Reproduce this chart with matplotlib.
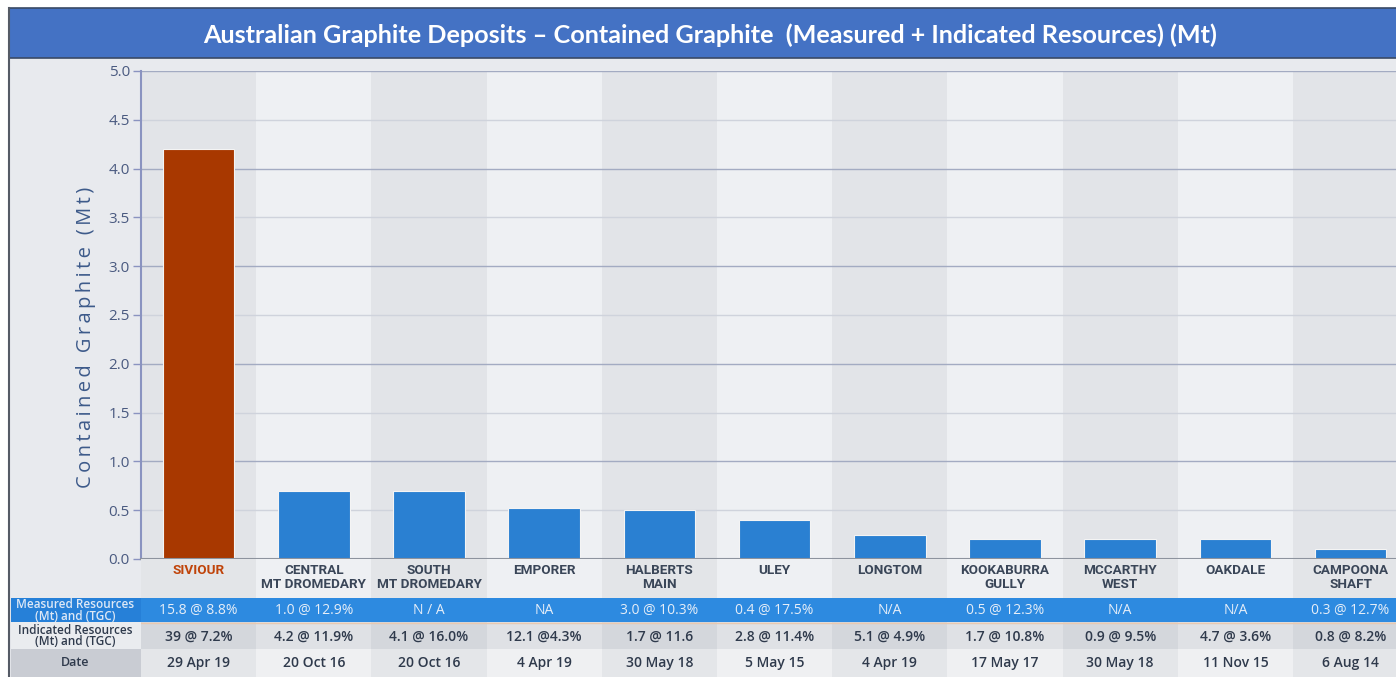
import matplotlib
matplotlib.use("Agg")
import matplotlib.pyplot as plt
from matplotlib.patches import Rectangle

# ---------------- data ----------------
deposits = ["SIVIOUR", "CENTRAL\nMT DROMEDARY", "SOUTH\nMT DROMEDARY", "EMPORER",
            "HALBERTS\nMAIN", "ULEY", "LONGTOM", "KOOKABURRA\nGULLY", "MCCARTHY\nWEST",
            "OAKDALE", "CAMPOONA\nSHAFT"]
contained_mt = [4.2, 0.7, 0.7, 0.52, 0.5, 0.4, 0.25, 0.2, 0.2, 0.2, 0.1]
measured = ["15.8 @ 8.8%", "1.0 @ 12.9%", "N / A", "NA", "3.0 @ 10.3%", "0.4 @ 17.5%",
            "N/A", "0.5 @ 12.3%", "N/A", "N/A", "0.3 @ 12.7%"]
indicated = ["39 @ 7.2%", "4.2 @ 11.9%", "4.1 @ 16.0%", "12.1 @4.3%", "1.7 @ 11.6",
             "2.8 @ 11.4%", "5.1 @ 4.9%", "1.7 @ 10.8%", "0.9 @ 9.5%", "4.7 @ 3.6%",
             "0.8 @ 8.2%"]
dates = ["29 Apr 19", "20 Oct 16", "20 Oct 16", "4 Apr 19", "30 May 18", "5 May 15",
         "4 Apr 19", "17 May 17", "30 May 18", "11 Nov 15", "6 Aug 14"]
row_headers = ["Measured Resources\n(Mt) and (TGC)", "Indicated Resources\n(Mt) and (TGC)", "Date"]
y_ticks = [0.0, 0.5, 1.0, 1.5, 2.0, 2.5, 3.0, 3.5, 4.0, 4.5, 5.0]
title = "Australian Graphite Deposits \u2013 Contained Graphite  (Measured + Indicated Resources) (Mt)"
ylabel = "Contained Graphite (Mt)"

# ---------------- style ----------------
W, H = 1396, 677
FONT = ["Open Sans", "DejaVu Sans"]
plt.rcParams["font.family"] = FONT

fig = plt.figure(figsize=(W / 100, H / 100), dpi=100)
fig.patch.set_facecolor("white")

def fx(px):
    return px / W

def fy(py):
    return 1 - py / H

# frame background
bg = fig.add_axes([0, 0, 1, 1])
bg.set_xlim(0, W)
bg.set_ylim(H, 0)
bg.axis("off")
bg.add_patch(Rectangle((9, 58), W, H, facecolor="#e8eaee", edgecolor="none"))
bg.add_patch(Rectangle((9, 8), W, 50, facecolor="#4472c4", edgecolor="#3a4a66", lw=1.2))
bg.plot([9, 9], [8, H], color="#555b66", lw=1.5)
bg.text(710, 35, title, color="white", fontsize=18.2, fontweight="bold",
        family=["Lato", "DejaVu Sans"], ha="center", va="center")

# main axes
col_px = 115.2
n = len(deposits)
ax_w = n * col_px
ax = fig.add_axes([fx(141), fy(559), fx(ax_w), (559 - 71) / H])
ax.set_facecolor("none")
ax.set_xlim(-0.5, n - 0.5)
ax.set_ylim(0, 5.0)
x = list(range(n))
for i in x:
    ax.axvspan(i - 0.5, i + 0.5, color="#e2e4e8" if i % 2 == 0 else "#eef0f3", zorder=0, lw=0)
for t in y_ticks:
    if t == 0:
        continue
    major = abs(t - round(t)) < 1e-9
    ax.axhline(t, color="#a3abc2" if major else "#cfd3dc", lw=1.0, zorder=1)
colors = ["#a83800"] + ["#2a80d2"] * (n - 1)
ax.bar(x, contained_mt, width=0.62, color=colors, edgecolor="#f4f4f4", lw=0.8, zorder=3)
ax.set_yticks(y_ticks)
ax.set_yticklabels([f"{t:.1f}" for t in y_ticks], color="#4a5a80", fontsize=11)
ax.tick_params(axis="y", length=6, width=1, color="#8a93c0", pad=2)
ax.set_xticks([])
for s in ["top", "right"]:
    ax.spines[s].set_visible(False)
ax.spines["left"].set_color("#8a93c0")
ax.spines["left"].set_linewidth(1.5)
ax.spines["bottom"].set_color("#8d939e")
ax.spines["bottom"].set_linewidth(1.5)
ax.spines["bottom"].set_zorder(4)
ax.set_ylabel("\u2009".join(ylabel), color="#3d5a8a", fontsize=14.5)
ax.yaxis.set_label_coords((96 - 141) / ax_w, (559 - 337) / 488)

# table axes
tax = fig.add_axes([fx(141), 0, fx(ax_w), (H - 559) / H])
tax.set_xlim(-0.5, n - 0.5)
tax.set_ylim(H - 559, 0)
tax.axis("off")
hdr_l = -0.5 - 132 / col_px
for i in x:
    even = i % 2 == 0
    tax.add_patch(Rectangle((i - 0.5, 0), 1, 39, facecolor="#e3e5e8" if even else "#eef0f3", lw=0))
    tax.add_patch(Rectangle((i - 0.5, 39), 1, 24, facecolor="#2d8ae0", lw=0))
    tax.add_patch(Rectangle((i - 0.5, 63), 1, 27, facecolor="#d4d7dc" if even else "#dfe1e5", lw=0))
    tax.add_patch(Rectangle((i - 0.5, 90), 1, 28, facecolor="#e4e6e9" if even else "#eff0f2", lw=0))
    tax.text(i, 4.5, deposits[i], ha="center", va="top", fontsize=9.7, fontweight="bold",
             family=["Roboto", "DejaVu Sans"],
             color="#c0440a" if i == 0 else "#3a4658", linespacing=1.1)
    tax.text(i, 51.5, measured[i], ha="center", va="center", fontsize=10, color="#e6eef8")
    tax.text(i, 77.5, indicated[i], ha="center", va="center", fontsize=10,
             fontweight="semibold", color="#2f3a4c")
    tax.text(i, 104, dates[i], ha="center", va="center", fontsize=10,
             fontweight="semibold", color="#2f3a4c")
tax.plot([-0.5, n - 0.5], [63.5, 63.5], color="#e9c9b0", lw=1.0)
hw = -0.5 - hdr_l
tax.add_patch(Rectangle((hdr_l + 0.02, 39), hw - 0.02, 24, facecolor="#2680d8", lw=0, clip_on=False))
tax.add_patch(Rectangle((hdr_l + 0.02, 63), hw - 0.02, 27, facecolor="#eaecef", lw=0, clip_on=False))
tax.add_patch(Rectangle((hdr_l + 0.02, 90), hw - 0.02, 28, facecolor="#c9ccd3", lw=0, clip_on=False))
hc = (hdr_l + -0.5) / 2
tax.text(hc, 51.5, row_headers[0], ha="center", va="center", fontsize=8.5, color="#dde8f6",
         linespacing=0.85, clip_on=False, fontweight="semibold")
tax.text(hc, 77, row_headers[1], ha="center", va="center", fontsize=8.5, color="#2f3a4c",
         linespacing=0.85, clip_on=False, fontweight="semibold")
tax.text(hc, 104, row_headers[2], ha="center", va="center", fontsize=9, color="#2f3a4c",
         clip_on=False, fontweight="semibold")

fig.savefig("out.png", dpi=100)
